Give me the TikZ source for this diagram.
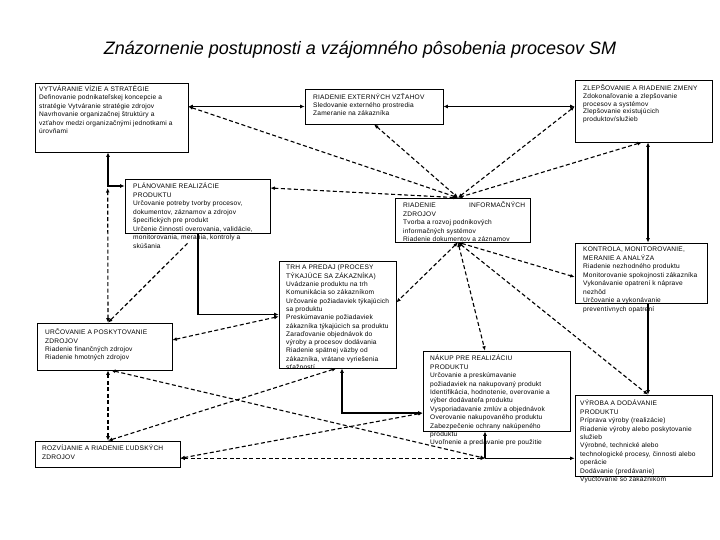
\documentclass[tikz,border=0pt]{standalone}
\usepackage{fontspec}
\setmainfont{Liberation Sans}
\newfontfamily\boxfont[LetterSpace=3]{Liberation Sans}
\usetikzlibrary{arrows.meta,calc}
\begin{document}
\begin{tikzpicture}[x=1pt,y=-1pt,
  >={Latex[length=4.5pt,width=3.8pt]},
  box/.style={draw,line width=0.6pt,inner sep=0pt},
  txt/.style={anchor=north west,inner sep=0pt,align=left,font=\boxfont\fontsize{6.6}{8.5}\selectfont},
  sline/.style={line width=1.2pt},
  tline/.style={line width=1.9pt},
  dline/.style={line width=1.1pt,dash pattern=on 4pt off 2.5pt}]
\useasboundingbox (0,0) rectangle (720,540);
\fill[white] (0,0) rectangle (720,540);

\node[font=\fontsize{18}{20}\selectfont\itshape] (title) at (360,50) {Znázornenie postupnosti a vzájomného pôsobenia procesov SM};

% boxes
\node[box,minimum width=153pt,minimum height=69pt] (b1) at (111.5,117.5) {};
\node[box,minimum width=138pt,minimum height=35pt] (b2) at (374,106.5) {};
\node[box,minimum width=137pt,minimum height=62pt] (b3) at (643.5,111) {};
\node[box,minimum width=145pt,minimum height=54pt] (b4) at (197.5,206) {};
\node[box,minimum width=135pt,minimum height=44pt] (b5) at (462.5,220) {};
\node[box,minimum width=132pt,minimum height=60pt] (b6) at (641,273) {};
\node[box,minimum width=117pt,minimum height=107pt] (b7) at (337.5,314.5) {};
\node[box,minimum width=135pt,minimum height=47pt] (b8) at (104.5,346.5) {};
\node[box,minimum width=147pt,minimum height=80pt] (b9) at (496.5,391) {};
\node[box,minimum width=137pt,minimum height=81pt] (b10) at (643.5,435.5) {};
\node[box,minimum width=145pt,minimum height=26pt] (b11) at (107.5,454) {};

% texts
\node[txt] (t1) at (39,85.5) {VYTVÁRANIE VÍZIE A STRATÉGIE\\Definovanie podnikateľskej koncepcie a\\stratégie Vytváranie stratégie zdrojov\\Navrhovanie organizačnej štruktúry a\\vzťahov medzi organizačnými jednotkami a\\úrovňami};
\node[txt,font=\boxfont\fontsize{6.6}{7.7}\selectfont] (t2) at (313,94) {RIADENIE EXTERNÝCH VZŤAHOV\\Sledovanie externého prostredia\\Zameranie na zákazníka};
\node[txt,font=\boxfont\fontsize{6.6}{7.6}\selectfont] (t3) at (583,85) {ZLEPŠOVANIE A RIADENIE ZMENY\\Zdokonaľovanie a zlepšovanie\\procesov a systémov\\Zlepšovanie existujúcich\\produktov/služieb};
\node[txt] (t4) at (133,183) {PLÁNOVANIE REALIZÁCIE\\PRODUKTU\\Určovanie potreby tvorby procesov,\\dokumentov, záznamov a zdrojov\\špecifických pre produkt\\Určenie činností overovania, validácie,\\monitorovania, merania, kontroly a\\skúšania};
\node[txt] (t5) at (403,202) {\makebox[122pt]{RIADENIE\hfill INFORMAČNÝCH}\\ZDROJOV\\Tvorba a rozvoj podnikových\\informačných systémov\\Riadenie dokumentov a záznamov};
\node[txt] (t6) at (583,247) {KONTROLA, MONITOROVANIE,\\MERANIE A ANALÝZA\\Riadenie nezhodného produktu\\Monitorovanie spokojnosti zákazníka\\Vykonávanie opatrení k náprave\\nezhôd\\Určovanie a vykonávanie\\preventívnych opatrení};
\node[txt,font=\boxfont\fontsize{6.6}{8.3}\selectfont] (t7) at (286,265) {TRH A PREDAJ (PROCESY\\TÝKAJÚCE SA ZÁKAZNÍKA)\\Uvádzanie produktu na trh\\Komunikácia so zákazníkom\\Určovanie požiadaviek týkajúcich\\sa produktu\\Preskúmavanie požiadaviek\\zákazníka týkajúcich sa produktu\\Zaraďovanie objednávok do\\výroby a procesov dodávania\\Riadenie spätnej väzby od\\zákazníka, vrátane vyriešenia\\sťažností};
\node[txt,font=\boxfont\fontsize{6.6}{8.3}\selectfont] (t8) at (45,329) {URČOVANIE A POSKYTOVANIE\\ZDROJOV\\Riadenie finančných zdrojov\\Riadenie hmotných zdrojov};
\node[txt,font=\boxfont\fontsize{6.6}{8.4}\selectfont] (t9) at (430,355) {NÁKUP PRE REALIZÁCIU\\PRODUKTU\\Určovanie a preskúmavanie\\požiadaviek na nakupovaný produkt\\Identifikácia, hodnotenie, overovanie a\\výber dodávateľa produktu\\Vysporiadavanie zmlúv a objednávok\\Overovanie nakupovaného produktu\\Zabezpečenie ochrany nakúpeného\\produktu\\Uvoľnenie a predávanie pre použitie};
\node[txt,font=\boxfont\fontsize{6.6}{8.4}\selectfont] (t10) at (580,400) {VÝROBA A DODÁVANIE\\PRODUKTU\\Príprava výroby (realizácie)\\Riadenie výroby alebo poskytovanie\\služieb\\Výrobné, technické alebo\\technologické procesy, činnosti alebo\\operácie\\Dodávanie (predávanie)\\Vyúčtovanie so zákazníkom};
\node[txt] (t11) at (42,445) {ROZVÍJANIE A RIADENIE ĽUDSKÝCH\\ZDROJOV};

% helper coordinates
\coordinate (cx) at ($(b1.south)+(-3.5,0)$);
\coordinate (rx) at ($(b3.south)+(4.5,0)$);
\coordinate (i5t) at ($(b5.north)+(-4.5,0)$);
\coordinate (i5b) at ($(b5.south)+(-4.5,0)$);
\coordinate (J) at ($(b9.south)+(-11.5,27)$);

% solid connectors
\draw[sline,<->] (b1.east |- b2.west) -- (b2.west);
\draw[sline,<->] (b2.east) -- (b3.west |- b2.east);
\draw[sline,<->] (b1.south -| cx) |- ($(b4.west)+(0,-20)$);
\draw[sline,<->] (b3.south -| rx) -- (b6.north -| rx);
\draw[sline,->] (b6.south -| rx) -- (b10.north -| rx);
\draw[tline,->] ($(b4.south)+(0.5,0)$) |- (b7.west);
\draw[tline,<->] ($(b7.south)+(4.5,0)$) |- ($(b9.west)+(0,22)$);
\draw[tline,<-] (b9.south -| J) -- (J);
\draw[sline,->] (J) -- (b10.west |- J);

% dashed connectors
\draw[dline,<->] (b1.east |- b2.west) -- (i5t);
\draw[dline,<->] (b2.south) -- (i5t);
\draw[dline,<->] ($(b4.east)+(0,-18)$) -- (i5t);
\draw[dline,<->] (b3.west |- b2.east) -- (i5t);
\draw[dline,<->] ($(b3.south)+(-1.5,0)$) -- (i5t);
\draw[dline,<->] (i5b) -- ($(b7.east)+(0,-12)$);
\draw[dline,<->] (i5b) -- (b9.north -| J);
\draw[dline,<->] (i5b) -- ($(b6.west)+(0,4)$);
\draw[dline,<->] (i5b) -- (b10.north -| rx);
\draw[dline,->] ($(b4.south)+(-10,10)$) -- (b8.north -| cx);
\draw[dline,<->] (b8.north -| cx) -- ($(b4.west)+(-17,-18)$);
\draw[dline,<->] ($(b8.east)+(0,-6.5)$) -- ($(b7.west)+(0,2)$);
\draw[dline,<->] (b8.south -| cx) -- (b11.north -| cx);
\draw[dline,<->] ($(b7.south)+(-1,0)$) -- (b11.north -| cx);
\draw[dline,<->] ($(b8.south -| cx)+(3,0)$) -- (J);
\draw[dline,<->] (b11.east |- J) -- (J);
\draw[dline,<->] (b11.east |- J) -- ($(b9.west)+(0,22)$);
\end{tikzpicture}
\end{document}
